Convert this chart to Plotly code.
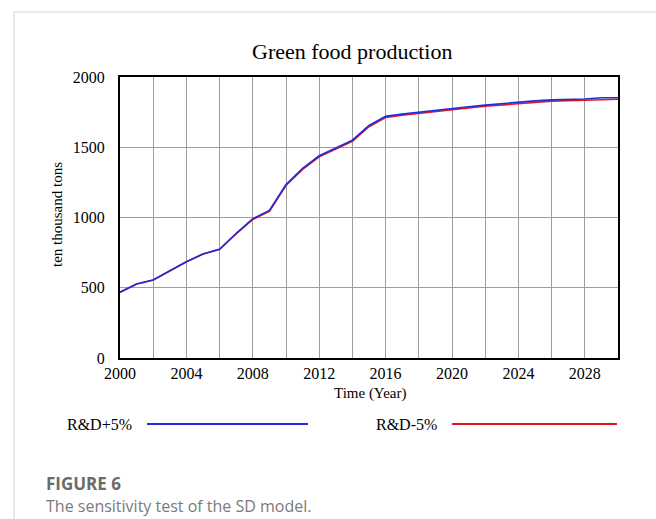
import plotly.graph_objects as go

years = list(range(2000, 2031))
rd_plus5 = [468, 527, 555, 621, 685, 740, 774, 888, 992, 1050, 1235, 1350, 1440,
            1495, 1550, 1655, 1720, 1736, 1750, 1764, 1776, 1788, 1800, 1811, 1821,
            1830, 1837, 1840, 1843, 1852, 1852]
rd_minus5 = [468, 527, 555, 621, 685, 740, 774, 884, 986, 1044, 1228, 1342, 1432,
             1488, 1542, 1646, 1712, 1728, 1742, 1756, 1768, 1780, 1792, 1802, 1812,
             1821, 1828, 1831, 1834, 1842, 1842]
series_names = ["R&D+5%", "R&D-5%"]
x_tickvals = list(range(2000, 2031, 2))
x_ticktext = [str(v) if (v - 2000) % 4 == 0 and v < 2030 else "" for v in x_tickvals]
y_tickvals = [0, 500, 1000, 1500, 2000]
y_ticktext = ["0", "500", "1000", "1500", "2000"]

BLUE = "#1a2ee0"
RED = "#e3161d"
SERIF = "Liberation Serif, Times New Roman, serif"

fig = go.Figure()
fig.add_trace(go.Scatter(x=years, y=rd_minus5, mode="lines", name=series_names[1],
                         line=dict(color=RED, width=1.6)))
fig.add_trace(go.Scatter(x=years, y=rd_plus5, mode="lines", name=series_names[0],
                         line=dict(color=BLUE, width=1.6)))

L, R, T, B = 120, 38, 77, 161
W, H = 656, 519
pw, ph = W - L - R, H - T - B


def px(x):
    return (x - L) / pw


def py(y):
    return (H - B - y) / ph


fig.update_layout(
    width=W, height=H,
    margin=dict(l=L, r=R, t=T, b=B, pad=0),
    paper_bgcolor="white", plot_bgcolor="white",
    showlegend=False,
    font=dict(family=SERIF, color="black", size=16),
)
fig.update_xaxes(range=[2000, 2030], tickvals=x_tickvals, ticktext=x_ticktext,
                 showgrid=True, gridcolor="#9e9e9e", gridwidth=1,
                 showline=True, linecolor="black", linewidth=2, mirror=True,
                 zeroline=False, ticks="", ticklabelstandoff=0,
                 tickfont=dict(family=SERIF, size=16))
fig.update_yaxes(range=[0, 2000], tickvals=y_tickvals, ticktext=y_ticktext,
                 showgrid=True, gridcolor="#9e9e9e", gridwidth=1,
                 showline=True, linecolor="black", linewidth=2, mirror=True,
                 zeroline=False, ticks="", ticklabelstandoff=10,
                 tickfont=dict(family=SERIF, size=16))

shapes = [
    dict(type="rect", xref="paper", yref="paper", x0=px(14), x1=px(670), y0=py(540), y1=py(12),
         line=dict(color="#d4d4d4", width=1), fillcolor="rgba(0,0,0,0)", layer="below"),
    dict(type="line", xref="paper", yref="paper", x0=px(147), x1=px(308), y0=py(424), y1=py(424),
         line=dict(color=BLUE, width=1.8)),
    dict(type="line", xref="paper", yref="paper", x0=px(452), x1=px(617), y0=py(424), y1=py(424),
         line=dict(color=RED, width=1.8)),
]
annotations = [
    dict(text="Green food production", x=px(352), y=py(52), xref="paper", yref="paper",
         showarrow=False, xanchor="center", yanchor="middle",
         font=dict(family=SERIF, size=22, color="black")),
    dict(text="Time (Year)", x=px(370), y=py(393), xref="paper", yref="paper",
         showarrow=False, xanchor="center", yanchor="middle",
         font=dict(family=SERIF, size=15, color="black")),
    dict(text="ten thousand tons", x=px(57), y=py(215), xref="paper", yref="paper",
         showarrow=False, xanchor="center", yanchor="middle", textangle=-90,
         font=dict(family=SERIF, size=15, color="black")),
    dict(text=series_names[0], x=px(134), y=py(424), xref="paper", yref="paper",
         showarrow=False, xanchor="right", yanchor="middle",
         font=dict(family=SERIF, size=16, color="black")),
    dict(text=series_names[1], x=px(439), y=py(424), xref="paper", yref="paper",
         showarrow=False, xanchor="right", yanchor="middle",
         font=dict(family=SERIF, size=16, color="black")),
    dict(text="<b>FIGURE 6</b>", x=px(44), y=py(483), xref="paper", yref="paper",
         showarrow=False, xanchor="left", yanchor="middle",
         font=dict(family="Open Sans, Noto Sans, sans-serif", size=17, color="#6b6b6b")),
    dict(text="The sensitivity test of the SD model.", x=px(44), y=py(506), xref="paper", yref="paper",
         showarrow=False, xanchor="left", yanchor="middle",
         font=dict(family="Open Sans, Noto Sans, sans-serif", size=16, color="#7a7a7a")),
]
fig.update_layout(shapes=shapes, annotations=annotations)

fig.write_html("out.html", config={"displayModeBar": False},
               post_script="document.body.style.margin='0';document.body.style.padding='0';")
